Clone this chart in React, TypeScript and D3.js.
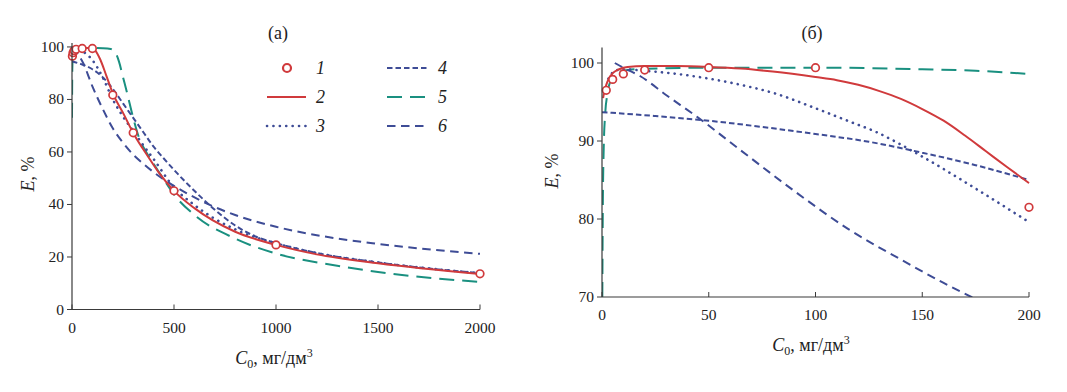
import React from 'react';
import * as d3 from 'd3';

const RED = '#d03a3c';
const BLUE = '#3e4c96';
const TEAL = '#1a9080';
const AXIS = '#3a3a3a';
const FONT = '"Liberation Serif", "Times New Roman", "DejaVu Serif", serif';

type Pt = [number, number];

// ---------- panel (а) ----------
const ticksAX = [0, 500, 1000, 1500, 2000];
const ticksAY = [0, 20, 40, 60, 80, 100];
const expAX = [2, 5, 10, 20, 50, 100, 200, 300, 500, 1000, 2000];
const expAY = [96.5, 97.8, 98.6, 99.1, 99.4, 99.4, 81.7, 67.3, 45.2, 24.6, 13.6];
const s2A: Pt[] = [[0, 95.5], [2, 96.8], [5, 97.8], [10, 98.6], [20, 99.2], [50, 99.6], [80, 99.6], [100, 99.4], [115, 98.5], [138, 95.3], [169, 88.9], [200, 82.3], [254, 74.3], [300, 67.2], [375, 58], [425, 52.2], [500, 45.2], [600, 38.6], [800, 29.6], [1000, 24.6], [1200, 21], [1500, 17.6], [2000, 13.5]];
const s3A: Pt[] = [[0, 95.5], [10, 98.2], [30, 98.8], [50, 98.3], [100, 95], [150, 88.5], [200, 80], [250, 73.5], [300, 68], [350, 62.5], [400, 57.3], [500, 46.5], [600, 39.8], [800, 30.5], [1000, 25.2], [1200, 21.5], [1500, 17.9], [2000, 13.8]];
const s4A: Pt[] = [[0, 94.5], [50, 93.3], [100, 91.5], [150, 88.5], [200, 84], [250, 78.5], [300, 73], [350, 67.5], [400, 62], [450, 57.5], [500, 53.2], [570, 47.5], [650, 41.5], [700, 38], [800, 32], [900, 27.8], [1000, 25.3], [1200, 21.5], [1500, 17.9], [2000, 13.8]];
const s5A: Pt[] = [[0, 73], [1, 88], [2, 93], [5, 97.5], [10, 99.2], [50, 99.6], [100, 99.6], [150, 99.5], [190, 99.2], [205, 98.5], [215, 97.5], [230, 94.5], [250, 88.5], [270, 82.5], [300, 73], [333, 64.5], [360, 60.5], [400, 55.5], [450, 49.5], [500, 43.8], [600, 36], [800, 27], [1000, 21.3], [1300, 16.7], [1500, 14.3], [2000, 10.5]];
const s6A: Pt[] = [[5, 100], [20, 98.3], [54, 94], [100, 85], [150, 76.5], [200, 69], [250, 63.5], [300, 59], [350, 55.5], [400, 52.3], [460, 49], [550, 44.8], [700, 39], [800, 36], [1000, 31.5], [1200, 28.3], [1500, 25], [2000, 21.2]];

// ---------- panel (б) ----------
const ticksBX = [0, 50, 100, 150, 200];
const ticksBY = [70, 80, 90, 100];
const expBX = [2, 5, 10, 20, 50, 100, 200];
const expBY = [96.5, 97.9, 98.6, 99.1, 99.4, 99.4, 81.5];
const s2B: Pt[] = [[0.5, 95.5], [1, 96.2], [2, 97.2], [3, 97.9], [5, 98.7], [8, 99.2], [12, 99.5], [20, 99.6], [35, 99.6], [50, 99.5], [65, 99.3], [80, 98.9], [100, 98.2], [110, 97.8], [120, 97.2], [130, 96.4], [140, 95.4], [150, 94.1], [160, 92.6], [170, 90.7], [180, 88.65], [190, 86.6], [200, 84.6]];
const s3B: Pt[] = [[3, 98], [6, 99], [10, 99.2], [20, 99], [35, 98.6], [50, 98], [65, 97.2], [81, 96.1], [100, 94.2], [115, 92.6], [128, 91.2], [150, 88], [175, 83.9], [200, 79.6]];
const s4B: Pt[] = [[0, 93.7], [25, 93.2], [50, 92.6], [75, 91.8], [100, 90.9], [125, 89.9], [150, 88.5], [175, 86.9], [200, 85]];
const s5B: Pt[] = [[0.15, 70], [0.4, 82], [0.8, 89], [1.5, 93.5], [2.5, 96], [4, 97.7], [7, 98.7], [12, 99.1], [20, 99.25], [50, 99.4], [100, 99.4], [150, 99.2], [175, 99], [200, 98.6]];
const s6B: Pt[] = [[6, 100], [10, 99.4], [18, 98.3], [30, 95.9], [45, 93], [65, 88.8], [90, 83.6], [116, 78.6], [140, 74.8], [160, 71.8], [173, 70], [185, 68.3]];

const legendLabels = ['1', '2', '3', '4', '5', '6'];

const styles = {
  s2: { stroke: RED, width: 2, dash: undefined as string | undefined, cap: 'butt' },
  s3: { stroke: BLUE, width: 2.6, dash: '0.1 6.3', cap: 'round' },
  s4: { stroke: BLUE, width: 2, dash: '5.5 3', cap: 'butt' },
  s5: { stroke: TEAL, width: 2, dash: '15 8', cap: 'butt' },
  s6: { stroke: BLUE, width: 2, dash: '8.5 5.5', cap: 'butt' },
};

interface PanelCfg {
  id: string;
  title: string;
  xDomain: [number, number];
  xRange: [number, number];
  yDomain: [number, number];
  yRange: [number, number];
  xTicks: number[];
  yTicks: number[];
  ex: number[];
  ey: number[];
  series: { key: keyof typeof styles; data: Pt[] }[];
  titleX: number;
  xLabelX: number;
  xLabelY: number;
  yLabelX: number;
  yLabelY: number;
  xTickLabelY: number;
}

function Panel({ c }: { c: PanelCfg }) {
  const x = d3.scaleLinear().domain(c.xDomain).range(c.xRange);
  const y = d3.scaleLinear().domain(c.yDomain).range(c.yRange);
  const line = d3.line<Pt>().x(d => x(d[0])).y(d => y(d[1])).curve(d3.curveMonotoneX);
  const [x0, x1] = c.xRange;
  const [yb, yt] = c.yRange;
  const order: (keyof typeof styles)[] = ['s5', 's6', 's4', 's3', 's2'];
  return (
    <g>
      <defs>
        <clipPath id={`clip-${c.id}`}>
          <rect x={x0} y={yt} width={x1 - x0 + 2} height={yb - yt} />
        </clipPath>
      </defs>
      <g clipPath={`url(#clip-${c.id})`}>
        {order.map(k => {
          const s = c.series.find(q => q.key === k)!;
          const st = styles[k];
          return (
            <path key={k} d={line(s.data) || ''} fill="none" stroke={st.stroke} strokeWidth={st.width}
              strokeDasharray={st.dash} strokeLinecap={st.cap as any} />
          );
        })}
      </g>
      {c.ex.map((v, i) => (
        <circle key={i} cx={x(v)} cy={y(c.ey[i])} r={3.8} fill="#fff" stroke={RED} strokeWidth={1.7} />
      ))}
      <line x1={x0} x2={x1} y1={yb} y2={yb} stroke={AXIS} strokeWidth={1.2} />
      <line x1={x0} x2={x0} y1={yb} y2={yt} stroke={AXIS} strokeWidth={1.2} />
      {c.xTicks.map(t => (
        <g key={t}>
          <line x1={x(t)} x2={x(t)} y1={yb} y2={yb - 5} stroke={AXIS} strokeWidth={1} />
          <text x={x(t)} y={c.xTickLabelY} textAnchor="middle" fontSize={15.5} fill="#222">{t}</text>
        </g>
      ))}
      {c.yTicks.map(t => (
        <g key={t}>
          <line x1={x0 - 5} x2={x0} y1={y(t)} y2={y(t)} stroke={AXIS} strokeWidth={1} />
          <text x={x0 - 8} y={y(t) + 5} textAnchor="end" fontSize={15.5} fill="#222">{t}</text>
        </g>
      ))}
      <text x={c.titleX} y={39} textAnchor="middle" fontSize={18} fill="#222">{c.title}</text>
      <text x={c.xLabelX} y={c.xLabelY} textAnchor="middle" fontSize={18} fill="#222">
        <tspan fontStyle="italic">C</tspan>
        <tspan fontSize={12} dy={4}>0</tspan>
        <tspan dy={-4}>, мг/дм</tspan>
        <tspan fontSize={12} dy={-7}>3</tspan>
      </text>
      <text transform={`translate(${c.yLabelX},${c.yLabelY}) rotate(-90)`} textAnchor="middle" fontSize={18} fill="#222">
        <tspan fontStyle="italic">E</tspan>
        <tspan>, %</tspan>
      </text>
    </g>
  );
}

function Legend() {
  const rows = [68, 97, 126];
  const col1 = { x1: 267, x2: 306, tx: 316 };
  const col2 = { x1: 387, x2: 428, tx: 438 };
  const keys: (keyof typeof styles | 'pt')[] = ['pt', 's2', 's3', 's4', 's5', 's6'];
  return (
    <g>
      {keys.map((k, i) => {
        const col = i < 3 ? col1 : col2;
        const yy = rows[i % 3];
        return (
          <g key={i}>
            {k === 'pt' ? (
              <circle cx={287} cy={yy} r={4} fill="#fff" stroke={RED} strokeWidth={2.2} />
            ) : (
              <line x1={col.x1} x2={col.x2} y1={yy} y2={yy} stroke={styles[k].stroke} strokeWidth={styles[k].width}
                strokeDasharray={styles[k].dash} strokeLinecap={styles[k].cap as any} />
            )}
            <text x={col.tx} y={yy + 6} fontSize={18} fontStyle="italic" fill="#222">{legendLabels[i]}</text>
          </g>
        );
      })}
    </g>
  );
}

export default function App() {
  const A: PanelCfg = {
    id: 'a', title: '(а)',
    xDomain: [0, 2000], xRange: [72, 480],
    yDomain: [0, 101.5], yRange: [309.5, 43],
    xTicks: ticksAX, yTicks: ticksAY, ex: expAX, ey: expAY,
    series: [{ key: 's2', data: s2A }, { key: 's3', data: s3A }, { key: 's4', data: s4A }, { key: 's5', data: s5A }, { key: 's6', data: s6A }],
    titleX: 278, xLabelX: 274, xLabelY: 364, yLabelX: 34, yLabelY: 174, xTickLabelY: 333,
  };
  const B: PanelCfg = {
    id: 'b', title: '(б)',
    xDomain: [0, 200], xRange: [602, 1029],
    yDomain: [70, 102], yRange: [297, 47.4],
    xTicks: ticksBX, yTicks: ticksBY, ex: expBX, ey: expBY,
    series: [{ key: 's2', data: s2B }, { key: 's3', data: s3B }, { key: 's4', data: s4B }, { key: 's5', data: s5B }, { key: 's6', data: s6B }],
    titleX: 812, xLabelX: 811, xLabelY: 351, yLabelX: 558, yLabelY: 171, xTickLabelY: 320,
  };
  return (
    <svg width={1067} height={392} style={{ position: 'absolute', left: 0, top: 0, background: '#fff', fontFamily: FONT }}>
      <rect width={1067} height={392} fill="#fff" />
      <Panel c={A} />
      <Panel c={B} />
      <Legend />
    </svg>
  );
}
